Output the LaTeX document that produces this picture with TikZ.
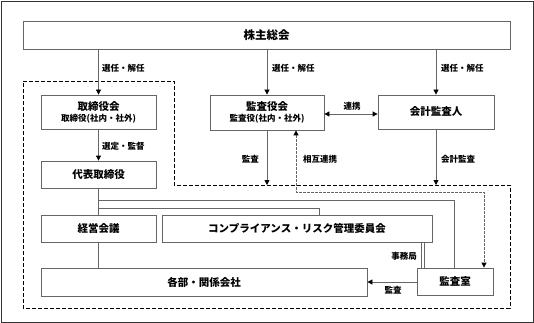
\documentclass[tikz,border=0pt]{standalone}
\usepackage{fontspec}
\setmainfont{Noto Sans CJK JP}
\usetikzlibrary{arrows.meta,calc}
\begin{document}
\begin{tikzpicture}[x=1pt,y=-1pt,
  box/.style={draw=black!60,line width=0.8pt,fill=white,inner sep=0pt,font=\bfseries\fontsize{10.5}{12}\selectfont,align=center},
  lbl/.style={font=\bfseries\fontsize{8.5}{10}\selectfont,inner sep=0pt},
  sub/.style={font=\bfseries\fontsize{8.5}{10}\selectfont},
  conn/.style={draw=black!60,line width=0.8pt},
  arr/.style={conn,-{Triangle[length=5pt,width=5pt,color=black]}},
  darr/.style={conn,{Triangle[length=5pt,width=5pt,color=black]}-{Triangle[length=5pt,width=5pt,color=black]}},
  region/.style={draw=black,line width=0.7pt,dash pattern=on 4pt off 2pt},
  mutual/.style={draw=black!60,line width=0.8pt,dash pattern=on 2.5pt off 1.5pt,{Triangle[length=5pt,width=5pt,color=black]}-{Triangle[length=5pt,width=5pt,color=black]}}
]
\useasboundingbox (0,0) rectangle (534,323);
\draw[black!80,line width=0.8pt] (1,1) rectangle (533,322);
% dashed region
\draw[region] (23,81) -- (174,81) -- (174,185) -- (510,185) -- (510,308) -- (23,308) -- cycle;

\node[box,minimum width=487pt,minimum height=28pt,font=\bfseries\fontsize{11.5}{13}\selectfont] (kabu) at (266.5,35) {株主総会};
\node[box,minimum width=115pt,minimum height=34pt] (tori) at (98.5,112) {取締役会\\[-1pt]{\bfseries\fontsize{8.5}{10}\selectfont 取締役(社内・社外)}};
\node[box,minimum width=115pt,minimum height=27pt] (daihyo) at (98.5,174.5) {代表取締役};
\node[box,minimum width=115pt,minimum height=27pt] (keiei) at (98.5,228.5) {経営会議};
\node[box,minimum width=326pt,minimum height=28pt] (kakubu) at (204,282) {各部・関係会社};
\node[box,minimum width=114pt,minimum height=35pt] (kansa) at (267,112.5) {監査役会\\[-1pt]{\bfseries\fontsize{8.5}{10}\selectfont 監査役(社内・社外)}};
\node[box,minimum width=116pt,minimum height=34pt] (kaikei) at (436,112) {会計監査人};
\node[box,minimum width=270pt,minimum height=27pt] (comp) at (297,228.5) {コンプライアンス・リスク管理委員会};
\node[box,minimum width=76pt,minimum height=27pt] (shitsu) at (455,281.5) {監査室};

% coordinates
\coordinate (a1) at (98.5,200);
\coordinate (a2) at (454,200);
\coordinate (b1) at (98.5,208);
\coordinate (b2) at (319,208);
\coordinate (k1) at (267,185);
\coordinate (k2) at (436,185);
\coordinate (m1) at (296,192);
\coordinate (m2) at (484,192);

% arrows from kabu
\draw[arr] (tori.north |- kabu.south) -- (tori.north);
\draw[arr] (kansa.north |- kabu.south) -- (kansa.north);
\draw[arr] (kaikei.north |- kabu.south) -- (kaikei.north);
\node[lbl,anchor=west] (l1) at (102,68) {選任・解任};
\node[lbl,anchor=west] (l2) at (272,68) {選任・解任};
\node[lbl,anchor=west] (l3) at (441,68) {選任・解任};

\draw[arr] (tori.south) -- (daihyo.north);
\node[lbl,anchor=west] (l4) at (102,146) {選定・監督};
\draw[conn] (daihyo.south) -- (keiei.north);
\draw[conn] (keiei.south) -- (kakubu.north -| keiei.south);
\draw[conn] (a1) -- (a2) -- (a2 |- shitsu.north);
\draw[conn] (b1) -- (b2) -- (b2 |- comp.north);
\draw[conn] (421,242) -- (421,268);
\draw[conn] (424.5,242) -- (424.5,268);
\node[lbl,anchor=east] (l5) at (417,256) {事務局};
\draw[arr] (shitsu.west |- 0,282) -- (kakubu.east |- 0,282);
\node[lbl] (l6) at (393,290) {監査};

\draw[darr] (kansa.east |- 0,114) -- (kaikei.west |- 0,114);
\node[lbl] (l7) at (352,106) {連携};
\draw[arr] (kansa.south) -- (k1);
\node[lbl,anchor=east] (l8) at (259,159) {監査};
\draw[arr] (kaikei.south) -- (k2);
\node[lbl,anchor=west] (l9) at (441,159) {会計監査};
\draw[mutual] (kansa.south -| m1) -- (m1) -- (m2) -- (m2 |- shitsu.north);
\node[lbl,anchor=west] (l10) at (303,159) {相互連携};
\end{tikzpicture}
\end{document}
